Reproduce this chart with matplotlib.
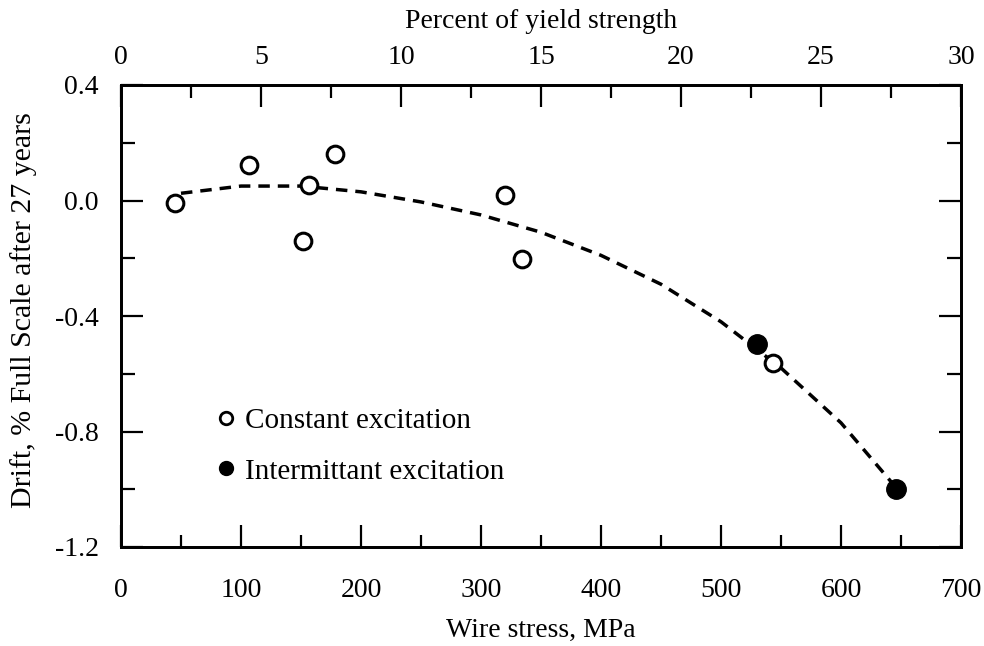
import matplotlib
matplotlib.use("Agg")
import matplotlib.pyplot as plt
from matplotlib.ticker import MultipleLocator
from matplotlib.lines import Line2D

plt.rcParams['font.family'] = ['Liberation Serif', 'DejaVu Serif']

# open circles: constant excitation
const_stress = [45, 107, 152, 157, 178, 320, 334, 543]
const_drift = [-0.01, 0.123, -0.14, 0.054, 0.161, 0.019, -0.203, -0.563]

# filled circles: intermittant excitation
inter_stress = [530, 646]
inter_drift = [-0.497, -1.0]

# dashed trend curve
curve_stress = [50, 100, 150, 200, 250, 300, 350, 400, 450, 500, 550, 600, 645]
curve_drift = [0.025, 0.05, 0.05, 0.03, -0.005, -0.05, -0.11, -0.19, -0.29, -0.42, -0.58, -0.77, -0.99]

stress_max = 700
percent_max = 30

fs = 20

fig = plt.figure(figsize=(9.84, 6.46), dpi=100)
ax = fig.add_axes([121 / 984, 1 - 547 / 646, 840 / 984, 462 / 646])

ax.plot(curve_stress, curve_drift, color='black', lw=2.5, dashes=(3.3, 2.3), zorder=2)
ax.plot(const_stress, const_drift, 'o', ms=12, mfc='white', mec='black', mew=2.2, zorder=3)
ax.plot(inter_stress, inter_drift, 'o', ms=14, mfc='black', mec='black', zorder=3)

ax.set_xlim(0, stress_max)
ax.set_ylim(-1.2, 0.4)
ax.xaxis.set_major_locator(MultipleLocator(100))
ax.xaxis.set_minor_locator(MultipleLocator(50))
ax.yaxis.set_major_locator(MultipleLocator(0.4))
ax.yaxis.set_minor_locator(MultipleLocator(0.2))
ax.yaxis.set_major_formatter(plt.FuncFormatter(lambda v, p: f"{v:.1f}"))

for s in ax.spines.values():
    s.set_linewidth(2)
ax.tick_params(which='both', direction='in', width=1.6, labelsize=fs, right=True, top=False)
ax.tick_params(axis='x', which='major', length=16, pad=22)
ax.tick_params(axis='x', which='minor', length=9)
ax.tick_params(axis='y', which='major', length=16, pad=16)
ax.tick_params(axis='y', which='minor', length=10)

ax.set_xlabel('Wire stress, MPa', fontsize=fs, labelpad=11)
ax.set_ylabel('Drift, % Full Scale after 27 years', fontsize=21.5)
ax.yaxis.set_label_coords(-0.1, 0.513)

# top axis: percent of yield strength
top = ax.twiny()
top.set_xlim(0, percent_max)
top.xaxis.set_major_locator(MultipleLocator(5))
top.xaxis.set_minor_locator(MultipleLocator(2.5))
top.tick_params(which='both', direction='in', width=1.6, labelsize=fs)
top.tick_params(which='major', length=16, pad=11)
top.tick_params(which='minor', length=9)
for s in top.spines.values():
    s.set_linewidth(2)
top.set_xlabel('Percent of yield strength', fontsize=fs, labelpad=12)

handles = [
    Line2D([], [], ls='none', marker='o', ms=9, mfc='white', mec='black', mew=2),
    Line2D([], [], ls='none', marker='o', ms=10, mfc='black', mec='black'),
]
ax.legend(handles, ['Constant excitation', 'Intermittant excitation'],
          loc='upper left', bbox_to_anchor=(0.114, 0.302), frameon=False,
          borderpad=0, borderaxespad=0,
          fontsize=21, handlelength=0.6, handletextpad=0.38, labelspacing=0.83)

fig.savefig('out.png', dpi=100)
